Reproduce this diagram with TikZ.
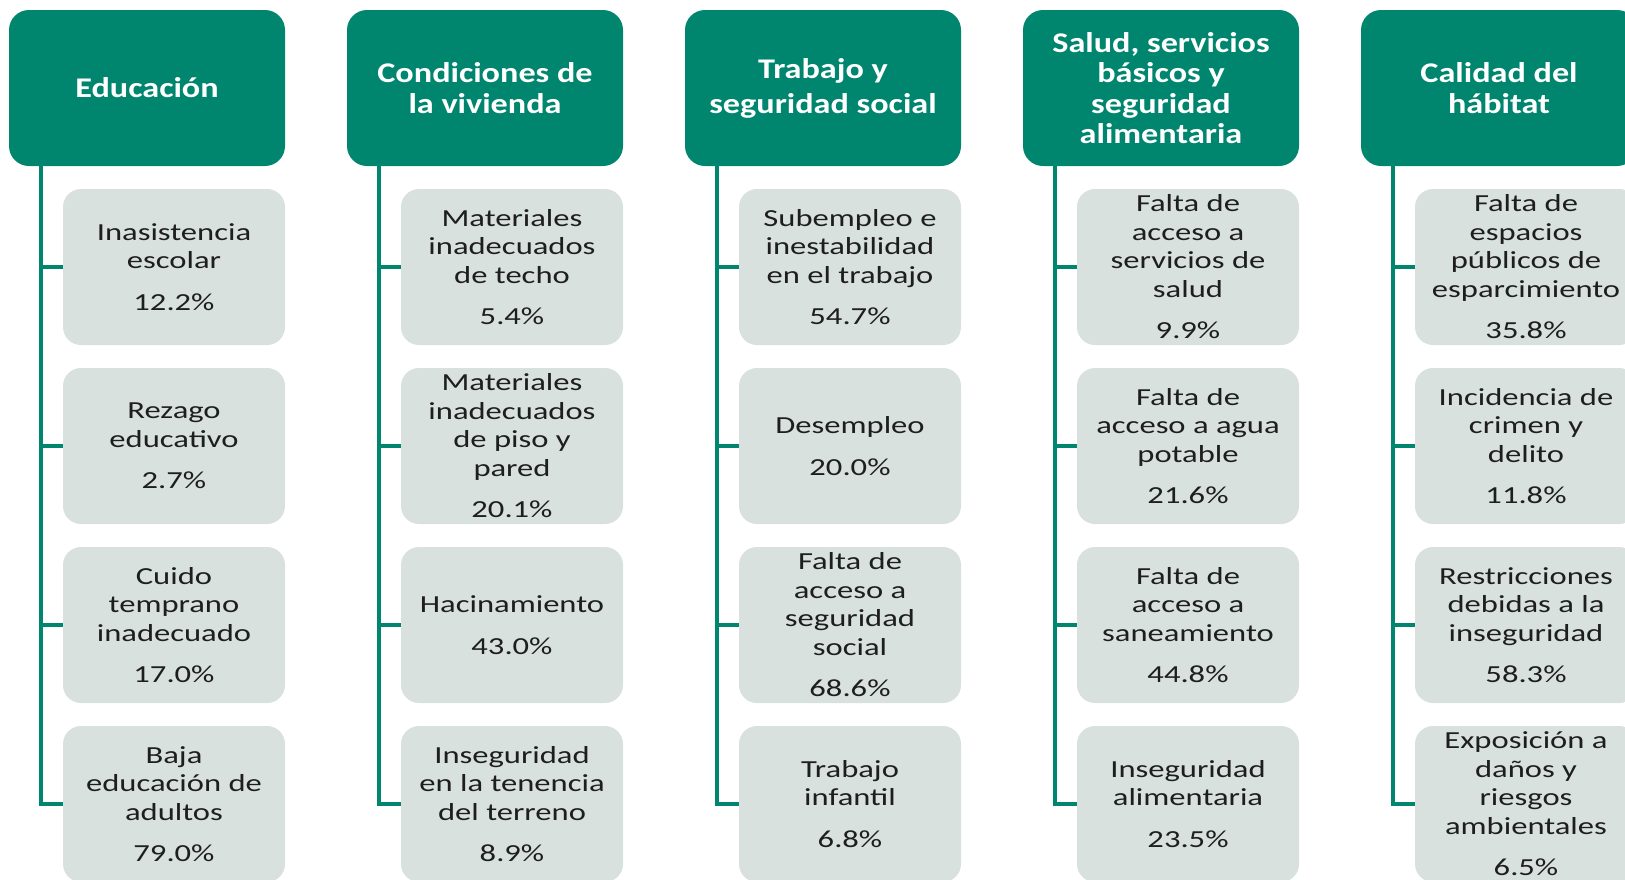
\documentclass[tikz,border=0pt]{standalone}
\usepackage{fontspec}
\setmainfont{Carlito}
\newfontfamily\childfont{Carlito}[FakeStretch=1.33]
\newfontfamily\headfont{Carlito}[FakeStretch=1.2]
\definecolor{hgreen}{RGB}{0,133,111}
\definecolor{cfill}{RGB}{216,225,222}
\definecolor{ctext}{RGB}{30,30,30}
\tikzset{
  hdr/.style={rectangle, rounded corners=20pt, fill=hgreen, text=white,
    minimum width=276pt, minimum height=156pt, inner sep=0pt, align=center},
  itm/.style={rectangle, rounded corners=18pt, fill=cfill, text=ctext,
    minimum width=222pt, minimum height=156pt, inner sep=0pt, align=center,
    font=\childfont\fontsize{24.5}{28.5}\selectfont},
  conn/.style={draw=hgreen, line width=4pt, line join=miter},
  hA/.style={font=\headfont\bfseries\fontsize{28.5}{35}\selectfont},
  hB/.style={font=\headfont\bfseries\fontsize{28.5}{30.5}\selectfont},
}
\begin{document}
\begin{tikzpicture}[x=1pt,y=-1pt]
\useasboundingbox (0,0) rectangle (1625,879);
\clip (0,0) rectangle (1625,879);

% Column 1
\node[hdr,hB] (h1) at (147,88) {Educación};
\node[itm] (a11) at (174,267) {Inasistencia\\escolar\\[13pt]12.2\%};
\node[itm] (a12) at (174,446) {Rezago\\educativo\\[13pt]2.7\%};
\node[itm] (a13) at (174,625) {Cuido\\temprano\\inadecuado\\[13pt]17.0\%};
\node[itm] (a14) at (174,804) {Baja\\educación de\\adultos\\[13pt]79.0\%};

% Column 2
\node[hdr,hB] (h2) at (485,88) {Condiciones de\\la vivienda};
\node[itm] (a21) at (512,267) {Materiales\\inadecuados\\de techo\\[13pt]5.4\%};
\node[itm] (a22) at (512,446) {Materiales\\inadecuados\\de piso y\\pared\\[13pt]20.1\%};
\node[itm] (a23) at (512,625) {Hacinamiento\\[13pt]43.0\%};
\node[itm] (a24) at (512,804) {Inseguridad\\en la tenencia\\del terreno\\[13pt]8.9\%};

% Column 3
\node[hdr,hA] (h3) at (823,88) {Trabajo y\\seguridad social};
\node[itm] (a31) at (850,267) {Subempleo e\\inestabilidad\\en el trabajo\\[13pt]54.7\%};
\node[itm] (a32) at (850,446) {Desempleo\\[13pt]20.0\%};
\node[itm] (a33) at (850,625) {Falta de\\acceso a\\seguridad\\social\\[13pt]68.6\%};
\node[itm] (a34) at (850,804) {Trabajo\\infantil\\[13pt]6.8\%};

% Column 4
\node[hdr,hB] (h4) at (1161,88) {Salud, servicios\\básicos y\\seguridad\\alimentaria};
\node[itm] (a41) at (1188,267) {Falta de\\acceso a\\servicios de\\salud\\[13pt]9.9\%};
\node[itm] (a42) at (1188,446) {Falta de\\acceso a agua\\potable\\[13pt]21.6\%};
\node[itm] (a43) at (1188,625) {Falta de\\acceso a\\saneamiento\\[13pt]44.8\%};
\node[itm] (a44) at (1188,804) {Inseguridad\\alimentaria\\[13pt]23.5\%};

% Column 5
\node[hdr,hB] (h5) at (1499,88) {Calidad del\\hábitat};
\node[itm] (a51) at (1526,267) {Falta de\\espacios\\públicos de\\esparcimiento\\[13pt]35.8\%};
\node[itm] (a52) at (1526,446) {Incidencia de\\crimen y\\delito\\[13pt]11.8\%};
\node[itm] (a53) at (1526,625) {Restricciones\\debidas a la\\inseguridad\\[13pt]58.3\%};
\node[itm] (a54) at (1526,804) {Exposición a\\daños y\\riesgos\\ambientales\\[13pt]6.5\%};

% Connectors
\foreach \c in {1,...,5}{
  \coordinate (v\c) at ([xshift=32pt]h\c.south west);
  \draw[conn] (v\c) |- (a\c4.west);
  \foreach \r in {1,2,3}{
    \draw[conn] (v\c |- a\c\r.west) -- (a\c\r.west);
  }
}
\end{tikzpicture}
\end{document}
